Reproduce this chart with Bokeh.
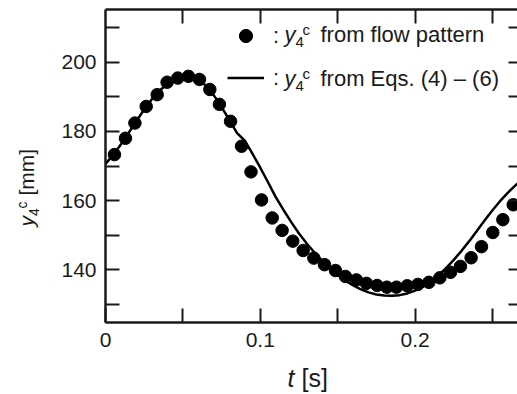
import math
from bokeh.plotting import figure
from bokeh.models import (LinearAxis, FixedTicker, Range1d, Label, Legend, LegendItem,
                          CustomLabelingPolicy)
from bokeh.embed import file_html
from bokeh.resources import INLINE

# ---- data ----
t_flow = [0.0058, 0.0129, 0.0190, 0.0263, 0.0334, 0.0398, 0.0467, 0.0536, 0.0607, 0.0674,
          0.0736, 0.0808, 0.0879, 0.0940, 0.1008, 0.1077, 0.1141, 0.1210, 0.1277, 0.1346,
          0.1415, 0.1486, 0.1550, 0.1621, 0.1686, 0.1755, 0.1818, 0.1880, 0.1949, 0.2018,
          0.2089, 0.2160, 0.2229, 0.2293, 0.2362, 0.2429, 0.2502, 0.2567, 0.2634]
y_flow = [173.3, 178.0, 182.4, 187.2, 190.6, 194.2, 195.4, 195.9, 195.0, 192.1,
          187.8, 182.9, 175.7, 168.3, 160.2, 155.0, 151.4, 148.3, 145.6, 143.4,
          141.5, 139.8, 138.1, 137.1, 136.1, 135.5, 135.0, 135.0, 135.4, 135.8,
          136.4, 137.7, 139.3, 141.0, 143.5, 146.7, 150.8, 154.5, 158.8]

t_eqs = [0.000, 0.005, 0.010, 0.015, 0.020, 0.025, 0.030, 0.035, 0.040, 0.045,
         0.050, 0.055, 0.060, 0.065, 0.070, 0.075, 0.080, 0.085, 0.090, 0.095,
         0.100, 0.105, 0.110, 0.115, 0.120, 0.125, 0.130, 0.135, 0.140, 0.145,
         0.150, 0.155, 0.160, 0.165, 0.170, 0.175, 0.180, 0.185, 0.190, 0.195,
         0.200, 0.205, 0.210, 0.215, 0.220, 0.225, 0.230, 0.235, 0.240, 0.245,
         0.250, 0.255, 0.260, 0.2662]
y_eqs = [170.6, 173.2, 176.3, 179.6, 183.0, 186.3, 189.3, 191.8, 193.7, 195.0,
         195.6, 195.6, 194.9, 193.2, 190.4, 187.0, 183.3, 179.5, 177.3, 173.5,
         169.5, 165.3, 161.0, 157.3, 153.8, 150.5, 147.6, 145.0, 142.6, 140.4,
         138.5, 136.9, 135.5, 134.4, 133.5, 132.9, 132.6, 132.5, 132.7, 133.2,
         134.0, 135.1, 136.6, 138.4, 140.5, 142.9, 145.5, 148.3, 151.3, 154.3,
         157.2, 159.9, 162.3, 165.0]

x_major = [0, 0.1, 0.2]
x_minor = [0.05, 0.15, 0.25]
y_major = [140, 160, 180, 200]
y_minor = [130, 150, 170, 190, 210]

# axes box limits (data) and its place on the canvas (pixels)
T_LO, T_HI = 0.0, 0.2694
V_LO, V_HI = 124.8, 215.2
W, H = 517, 394
BOX_L, BOX_R, BOX_T, BOX_B = 105, 522, 9, 322

FONT = "Liberation Sans"
INK = "#1a1a1a"

sx = (BOX_R - BOX_L) / (T_HI - T_LO)
sy = (BOX_B - BOX_T) / (V_HI - V_LO)
x_range = Range1d(T_LO - BOX_L / sx, T_LO + (W - BOX_L) / sx)
y_range = Range1d(V_LO - (H - BOX_B) / sy, V_HI + BOX_T / sy)

p = figure(width=W, height=H, x_range=x_range, y_range=y_range,
           output_backend="svg", toolbar_location=None, min_border=0,
           min_border_left=0, min_border_right=0, min_border_top=0, min_border_bottom=0)
p.xgrid.visible = False
p.ygrid.visible = False
p.outline_line_color = None
p.background_fill_color = "white"

NO_LABELS = CustomLabelingPolicy(code="for (const i of indices) { indices.unset(i) }")


def style_axis(ax, ticks, minor, tick_in, loc, bounds, show_labels=True, line=True):
    ax.ticker = FixedTicker(ticks=ticks, minor_ticks=minor)
    ax.fixed_location = loc
    ax.bounds = bounds
    ax.major_tick_in = tick_in
    ax.major_tick_out = 0
    ax.minor_tick_in = tick_in
    ax.minor_tick_out = 0
    ax.major_tick_line_width = 2
    ax.minor_tick_line_width = 2
    ax.major_tick_line_color = INK
    ax.minor_tick_line_color = INK
    ax.axis_line_width = 2.5
    ax.axis_line_color = INK if line else None
    ax.major_label_text_font = FONT
    ax.major_label_text_font_size = "21px"
    ax.major_label_text_color = INK
    if not show_labels:
        ax.major_label_policy = NO_LABELS


style_axis(p.xaxis[0], x_major, x_minor, 14, V_LO, (T_LO, T_HI))
p.xaxis[0].major_label_standoff = 10
style_axis(p.yaxis[0], y_major, y_minor, 14, T_LO, (V_LO, V_HI))
p.yaxis[0].major_label_standoff = 9

top = LinearAxis()
style_axis(top, x_major[1:] + x_minor, [], 14, V_HI, (T_LO, T_HI), show_labels=False)
p.add_layout(top, "above")
right = LinearAxis()
style_axis(right, y_major + y_minor, [], 14, T_HI, (V_LO, V_HI), show_labels=False, line=False)
p.add_layout(right, "right")

ln = p.line(t_eqs, y_eqs, line_width=2.5, line_color="black")
sc = p.scatter(t_flow, y_flow, size=12.5, fill_color="black", line_color="black")

# legend: symbols + ":" ; its box spans y = 19 .. 94 from the top
legend = Legend(items=[LegendItem(label=":", renderers=[sc]), LegendItem(label=":", renderers=[ln])],
                location=(227, H - 94), glyph_width=37, glyph_height=33, spacing=9,
                padding=0, margin=0, border_line_color=None, background_fill_alpha=0,
                label_text_font=FONT, label_text_font_size="22px", label_text_color=INK,
                label_standoff=9)
p.add_layout(legend, "center")

K = 0.35  # observed shift of the text anchor, as a fraction of the font size


def lab(px, py, text, size, italic=False, rotated=False):
    fs = float(size.replace("px", ""))
    if rotated:
        px = px - K * fs
    else:
        py = py - K * fs
    p.add_layout(Label(x=px, y=H - py, x_units="screen", y_units="screen", text=text,
                       text_font=FONT, text_font_size=size, text_color=INK,
                       text_font_style="italic" if italic else "normal",
                       text_align="left", text_baseline="alphabetic",
                       angle=math.pi / 2 if rotated else 0.0))


# legend texts (baselines at 41.7 and 85.7)
for base in (41.7, 85.7):
    lab(284, base, "y", "22px", italic=True)
    lab(295, base + 5, "4", "15px")
    lab(302, base - 7, "c", "15px")
lab(320, 41.7, "from flow pattern", "22px")
lab(320, 85.7, "from Eqs. (4) \u2013 (6)", "22px")

# x-axis title
lab(287, 386, "t", "25px", italic=True)
lab(301, 386, "[s]", "25px")

# y-axis title (rotated, reading upward)
BX = 33
lab(BX, 226, "y", "21px", italic=True, rotated=True)
lab(BX + 5, 215.5, "4", "14px", rotated=True)
lab(BX - 7, 208, "c", "14px", rotated=True)
lab(BX, 195, "[mm]", "21px", rotated=True)

open("out.html", "w").write(file_html(p, INLINE))
